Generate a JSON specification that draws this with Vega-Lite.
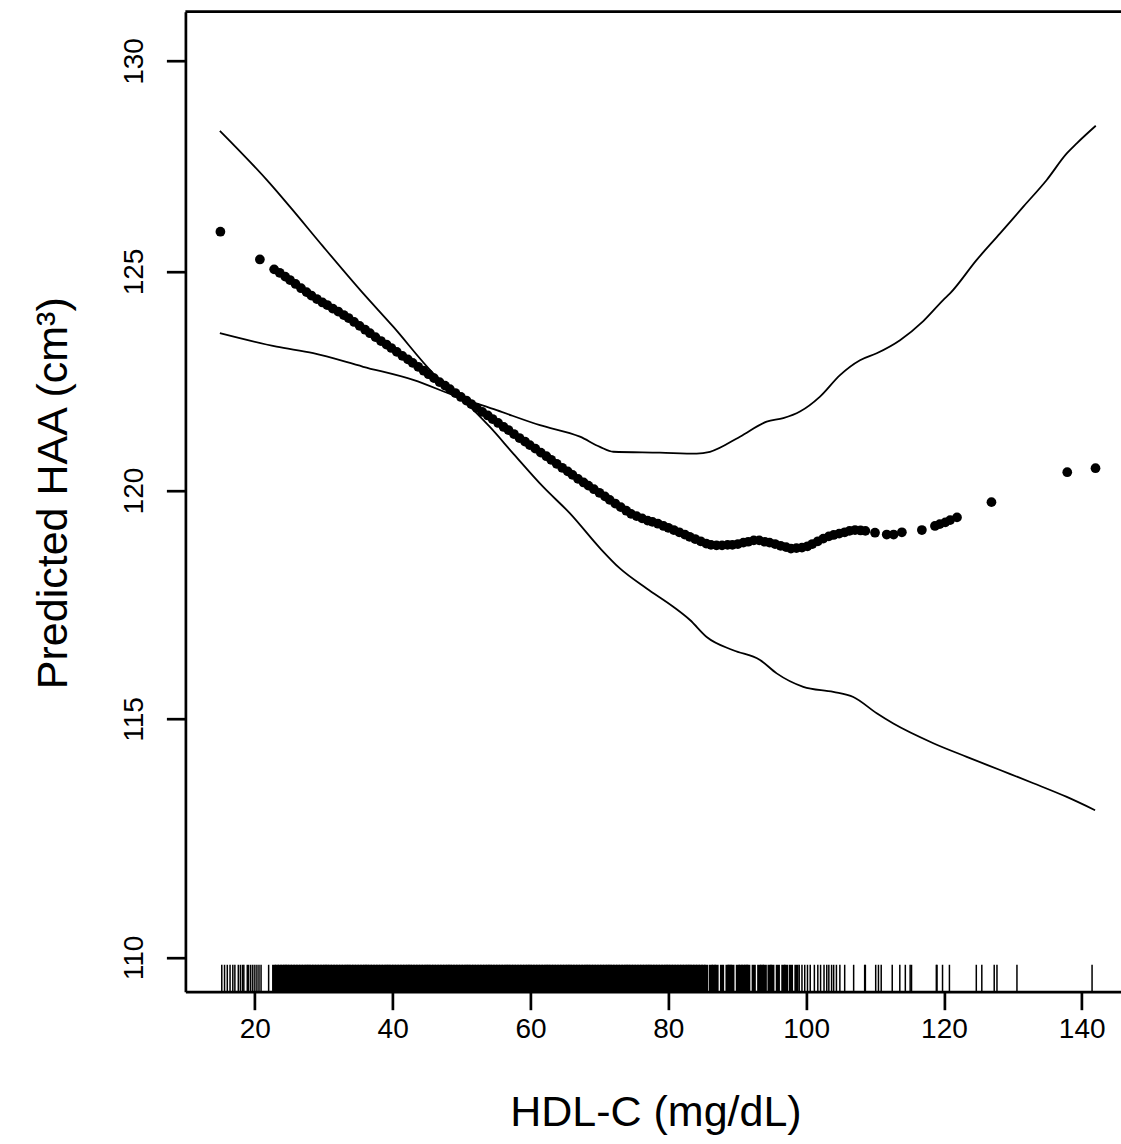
{
"$schema": "https://vega.github.io/schema/vega-lite/v6.json",
"width": 935.6,
"height": 980,
"autosize": {"type": "none"},
"padding": {"left": 185.4, "top": 11.7, "right": 0, "bottom": 152.3},
"background": "white",
"config": {"view": {"stroke": null}, "font": "Liberation Sans"},
"datasets": {
"rug": [{"h":15.2},{"h":15.6},{"h":16.0},{"h":16.4},{"h":16.8},{"h":17.1},{"h":17.6},{"h":17.9},{"h":18.2},{"h":18.4},{"h":18.9},{"h":19.1},{"h":19.4},{"h":19.7},{"h":20.0},{"h":20.3},{"h":20.6},{"h":20.9},{"h":22.0},
{"h":22.8},{"h":23.2},{"h":23.6},{"h":24.0},{"h":24.4},{"h":24.7},{"h":25.1},{"h":25.5},{"h":25.9},{"h":26.3},{"h":26.7},{"h":27.1},{"h":27.5},{"h":27.8},{"h":28.2},{"h":28.6},{"h":29.0},{"h":29.4},{"h":29.8},{"h":30.2},{"h":30.5},{"h":30.9},{"h":31.3},{"h":31.7},{"h":32.1},{"h":32.5},{"h":32.9},{"h":33.3},{"h":33.6},{"h":34.0},{"h":34.4},{"h":34.8},{"h":35.2},{"h":35.6},{"h":36.0},{"h":36.3},{"h":36.7},{"h":37.1},{"h":37.5},{"h":37.9},{"h":38.3},{"h":38.7},{"h":39.1},{"h":39.4},{"h":39.8},{"h":40.2},{"h":40.6},{"h":41.0},{"h":41.4},{"h":41.8},{"h":42.2},{"h":42.5},{"h":42.9},{"h":43.3},{"h":43.7},{"h":44.1},{"h":44.5},{"h":44.9},{"h":45.2},{"h":45.6},{"h":46.0},{"h":46.4},{"h":46.8},{"h":47.2},{"h":47.6},{"h":48.0},{"h":48.3},{"h":48.7},{"h":49.1},{"h":49.5},{"h":49.9},{"h":50.3},{"h":50.7},{"h":51.0},{"h":51.4},{"h":51.8},{"h":52.2},{"h":52.6},{"h":53.0},{"h":53.4},{"h":53.8},{"h":54.1},{"h":54.5},{"h":54.9},{"h":55.3},{"h":55.7},{"h":56.1},{"h":56.5},{"h":56.8},{"h":57.2},{"h":57.6},{"h":58.0},{"h":58.4},{"h":58.8},{"h":59.2},{"h":59.6},{"h":59.9},{"h":60.3},{"h":60.7},{"h":61.1},{"h":61.5},{"h":61.9},{"h":62.3},{"h":62.6},{"h":63.0},{"h":63.4},{"h":63.8},{"h":64.2},{"h":64.6},{"h":65.0},{"h":65.4},{"h":65.7},{"h":66.1},{"h":66.5},{"h":66.9},{"h":67.3},{"h":67.7},{"h":68.1},{"h":68.4},{"h":68.8},{"h":69.2},{"h":69.6},{"h":70.0},{"h":70.4},{"h":70.8},{"h":71.2},{"h":71.5},{"h":71.9},{"h":72.3},{"h":72.7},{"h":73.1},{"h":73.5},{"h":73.9},{"h":74.2},{"h":74.6},{"h":75.0},{"h":75.4},{"h":75.8},{"h":76.2},{"h":76.6},{"h":77.0},{"h":77.3},{"h":77.7},{"h":78.1},{"h":78.5},{"h":78.9},{"h":79.3},{"h":79.7},{"h":80.0},{"h":80.4},{"h":80.8},{"h":81.2},{"h":81.6},{"h":82.0},{"h":82.4},{"h":82.8},{"h":83.1},{"h":83.5},{"h":83.9},{"h":84.3},{"h":84.7},{"h":85.1},{"h":85.5},{"h":86.2},{"h":86.6},{"h":87.0},{"h":87.8},{"h":88.6},{"h":88.9},{"h":89.3},{"h":90.1},{"h":90.5},{"h":90.9},{"h":91.3},{"h":91.6},{"h":92.4},{"h":93.2},{"h":93.6},{"h":94.0},{"h":94.7},{"h":95.1},{"h":95.9},{"h":96.7},{"h":97.1},{"h":97.8},{"h":98.6},
{"h":99.0},{"h":99.4},{"h":99.8},{"h":100.2},{"h":100.6},{"h":101.2},{"h":101.7},{"h":102.1},{"h":102.6},{"h":103.0},{"h":103.3},{"h":103.7},{"h":104.0},{"h":104.4},{"h":104.9},{"h":105.6},{"h":106.9},{"h":108.5},{"h":108.6},{"h":110.1},{"h":110.5},{"h":110.9},{"h":112.5},{"h":113.6},{"h":114.4},{"h":115.1},{"h":115.3},{"h":118.9},{"h":119.0},{"h":119.8},{"h":120.8},{"h":124.7},{"h":125.5},{"h":127.3},{"h":127.7},{"h":130.6},{"h":141.5}],
"fit": [{"x":15.0,"y":125.93},{"x":20.73,"y":125.28},
{"x":22.8,"y":125.05},{"x":23.6,"y":124.97},{"x":24.4,"y":124.88},{"x":25.1,"y":124.80},{"x":25.9,"y":124.71},{"x":26.7,"y":124.61},{"x":27.5,"y":124.52},{"x":28.2,"y":124.44},{"x":29.0,"y":124.36},{"x":29.8,"y":124.28},{"x":30.5,"y":124.22},{"x":31.3,"y":124.14},{"x":32.1,"y":124.07},{"x":32.9,"y":123.99},{"x":33.6,"y":123.92},{"x":34.4,"y":123.83},{"x":35.2,"y":123.74},{"x":36.0,"y":123.65},{"x":36.7,"y":123.57},{"x":37.5,"y":123.48},{"x":38.3,"y":123.39},{"x":39.1,"y":123.31},{"x":39.8,"y":123.23},{"x":40.6,"y":123.14},{"x":41.4,"y":123.05},{"x":42.2,"y":122.97},{"x":42.9,"y":122.89},{"x":43.7,"y":122.80},{"x":44.5,"y":122.71},{"x":45.2,"y":122.63},{"x":46.0,"y":122.54},{"x":46.8,"y":122.45},{"x":47.6,"y":122.37},{"x":48.3,"y":122.29},{"x":49.1,"y":122.20},{"x":49.9,"y":122.11},{"x":50.7,"y":122.03},{"x":51.4,"y":121.95},{"x":52.2,"y":121.86},{"x":53.0,"y":121.77},{"x":53.8,"y":121.69},{"x":54.5,"y":121.61},{"x":55.3,"y":121.52},{"x":56.1,"y":121.43},{"x":56.8,"y":121.36},{"x":57.6,"y":121.27},{"x":58.4,"y":121.18},{"x":59.2,"y":121.10},{"x":59.9,"y":121.02},{"x":60.7,"y":120.94},{"x":61.5,"y":120.85},{"x":62.3,"y":120.77},{"x":63.0,"y":120.69},{"x":63.8,"y":120.60},{"x":64.6,"y":120.51},{"x":65.4,"y":120.43},{"x":66.1,"y":120.35},{"x":66.9,"y":120.26},{"x":67.7,"y":120.18},{"x":68.4,"y":120.11},{"x":69.2,"y":120.03},{"x":70.0,"y":119.95},{"x":70.8,"y":119.87},{"x":71.5,"y":119.79},{"x":72.3,"y":119.71},{"x":73.1,"y":119.63},{"x":73.9,"y":119.55},{"x":74.6,"y":119.48},{"x":75.4,"y":119.43},{"x":76.2,"y":119.38},{"x":77.0,"y":119.33},{"x":77.7,"y":119.30},{"x":78.5,"y":119.26},{"x":79.3,"y":119.21},{"x":80.0,"y":119.17},{"x":80.8,"y":119.12},{"x":81.6,"y":119.07},{"x":82.4,"y":119.02},{"x":83.1,"y":118.97},{"x":83.9,"y":118.92},{"x":84.7,"y":118.87},{"x":85.5,"y":118.82},{"x":86.2,"y":118.79},{"x":87.0,"y":118.78},{"x":87.8,"y":118.78},{"x":88.6,"y":118.79},{"x":89.3,"y":118.79},{"x":90.1,"y":118.81},{"x":90.9,"y":118.84},{"x":91.6,"y":118.86},{"x":92.4,"y":118.89},{"x":93.2,"y":118.89},{"x":94.0,"y":118.86},{"x":94.7,"y":118.84},{"x":95.5,"y":118.81},{"x":96.3,"y":118.77},{"x":97.1,"y":118.74},{"x":97.8,"y":118.71},{"x":98.6,"y":118.72},{"x":99.4,"y":118.73},{"x":100.2,"y":118.76},{"x":100.9,"y":118.81},{"x":101.7,"y":118.87},{"x":102.5,"y":118.93},{"x":103.3,"y":118.98},{"x":104.0,"y":119.01},{"x":104.8,"y":119.04},{"x":105.6,"y":119.07},{"x":106.3,"y":119.10},{"x":107.1,"y":119.12},{"x":107.9,"y":119.11},{"x":108.6,"y":119.10},{"x":110.0,"y":119.06},{"x":111.7,"y":119.02},{"x":112.7,"y":119.02},{"x":113.9,"y":119.07},{"x":116.8,"y":119.12},{"x":118.7,"y":119.21},{"x":119.4,"y":119.25},{"x":120.2,"y":119.29},{"x":120.9,"y":119.34},{"x":121.9,"y":119.40},{"x":126.9,"y":119.74},{"x":137.9,"y":120.41},{"x":142.0,"y":120.50}],
"ci": [{"s":"A","x":14.92,"y":128.32},{"s":"A","x":22.18,"y":127.07},{"s":"A","x":25.08,"y":126.52},{"s":"A","x":29.92,"y":125.58},{"s":"A","x":35.72,"y":124.49},{"s":"A","x":40.08,"y":123.72},{"s":"A","x":45.89,"y":122.65},{"s":"A","x":50.24,"y":122.04},{"s":"A","x":54.11,"y":121.43},{"s":"A","x":57.50,"y":120.83},{"s":"A","x":61.85,"y":120.08},{"s":"A","x":65.73,"y":119.49},{"s":"A","x":70.08,"y":118.72},{"s":"A","x":72.98,"y":118.27},{"s":"A","x":76.86,"y":117.83},{"s":"A","x":80.72,"y":117.43},{"s":"A","x":83.15,"y":117.14},{"s":"A","x":85.57,"y":116.77},{"s":"A","x":89.43,"y":116.48},{"s":"A","x":93.31,"y":116.27},{"s":"A","x":95.73,"y":115.98},{"s":"A","x":99.59,"y":115.69},{"s":"A","x":103.95,"y":115.58},{"s":"A","x":106.85,"y":115.47},{"s":"A","x":110.25,"y":115.12},{"s":"A","x":112.66,"y":114.90},{"s":"A","x":118.46,"y":114.48},{"s":"A","x":123.31,"y":114.19},{"s":"A","x":128.15,"y":113.91},{"s":"A","x":132.98,"y":113.63},{"s":"A","x":137.83,"y":113.34},{"s":"A","x":141.94,"y":113.06},
{"s":"B","x":14.92,"y":123.57},{"s":"B","x":23.15,"y":123.26},{"s":"B","x":28.47,"y":123.11},{"s":"B","x":35.72,"y":122.80},{"s":"B","x":42.98,"y":122.50},{"s":"B","x":49.28,"y":122.12},{"s":"B","x":55.09,"y":121.81},{"s":"B","x":61.37,"y":121.47},{"s":"B","x":67.18,"y":121.21},{"s":"B","x":70.08,"y":120.98},{"s":"B","x":72.01,"y":120.87},{"s":"B","x":78.79,"y":120.85},{"s":"B","x":84.12,"y":120.83},{"s":"B","x":86.05,"y":120.87},{"s":"B","x":90.40,"y":121.21},{"s":"B","x":94.28,"y":121.55},{"s":"B","x":96.69,"y":121.63},{"s":"B","x":99.11,"y":121.78},{"s":"B","x":102.02,"y":122.12},{"s":"B","x":104.92,"y":122.61},{"s":"B","x":107.82,"y":122.95},{"s":"B","x":110.25,"y":123.11},{"s":"B","x":113.63,"y":123.41},{"s":"B","x":117.01,"y":123.85},{"s":"B","x":119.92,"y":124.34},{"s":"B","x":120.89,"y":124.49},{"s":"B","x":124.76,"y":125.27},{"s":"B","x":128.15,"y":125.89},{"s":"B","x":131.53,"y":126.52},{"s":"B","x":134.92,"y":127.15},{"s":"B","x":137.83,"y":127.78},{"s":"B","x":139.28,"y":128.02},{"s":"B","x":142.04,"y":128.44}]
},
"layer": [
{"data": {"name": "rug"},
 "transform": [{"filter": "datum.h >= 22.5 && datum.h <= 98.7"}],
 "mark": {"type": "rule", "color": "black", "strokeWidth": 4.2},
 "encoding": {
  "x": {"field": "h", "type": "quantitative", "scale": {"domain": [9.92, 145.7], "nice": false, "zero": false},
   "axis": {"values": [20,40,60,80,100,120,140], "title": "HDL-C (mg/dL)", "grid": false,
    "domainColor": "black", "domainWidth": 2.7, "tickColor": "black", "tickWidth": 2.7, "tickSize": 18,
    "labelFont": "Liberation Sans", "labelFontSize": 28, "labelColor": "black", "labelPadding": 6, "labelFlush": false,
    "titleFont": "Liberation Sans", "titleFontSize": 43, "titleFontWeight": "normal", "titleColor": "black",
    "titleX": 470, "titleY": 134, "titleBaseline": "alphabetic", "titleAlign": "center"}},
  "y": {"datum": 109.3, "type": "quantitative", "scale": {"type": "log", "domain": [109.3, 131.2], "nice": false, "zero": false},
   "axis": {"values": [110,115,120,125,130], "title": "Predicted HAA (cm³)", "grid": false,
    "domainColor": "black", "domainWidth": 2.7, "tickColor": "black", "tickWidth": 2.7, "tickSize": 19,
    "labelFont": "Liberation Sans", "labelFontSize": 28, "labelColor": "black", "labelAngle": -90, "labelAlign": "center", "labelBaseline": "alphabetic", "labelPadding": 24,
    "titleFont": "Liberation Sans", "titleFontSize": 43, "titleFontWeight": "normal", "titleColor": "black",
    "titleAngle": -90, "titleX": -119, "titleY": 481, "titleBaseline": "alphabetic", "titleAlign": "center"}},
  "y2": {"datum": 109.85}
 }},
{"data": {"name": "rug"},
 "transform": [{"filter": "datum.h < 22.5 || datum.h > 98.7"}],
 "mark": {"type": "rule", "color": "black", "strokeWidth": 1.5},
 "encoding": {
  "x": {"field": "h", "type": "quantitative"},
  "y": {"datum": 109.3, "type": "quantitative"},
  "y2": {"datum": 109.85}
 }},
{"data": {"name": "ci"},
 "mark": {"type": "line", "color": "black", "strokeWidth": 1.8, "interpolate": "monotone"},
 "encoding": {
  "x": {"field": "x", "type": "quantitative"},
  "y": {"field": "y", "type": "quantitative"},
  "detail": {"field": "s"},
  "order": {"field": "x", "type": "quantitative"}
 }},
{"data": {"name": "fit"},
 "mark": {"type": "circle", "color": "black", "opacity": 1, "size": 95},
 "encoding": {
  "x": {"field": "x", "type": "quantitative"},
  "y": {"field": "y", "type": "quantitative"}
 }},
{"data": {"values": [{}]},
 "mark": {"type": "rule", "color": "black", "strokeWidth": 2.7},
 "encoding": {
  "x": {"datum": 9.92, "type": "quantitative"},
  "x2": {"datum": 145.7},
  "y": {"datum": 131.2, "type": "quantitative"}
 }}
]
}
